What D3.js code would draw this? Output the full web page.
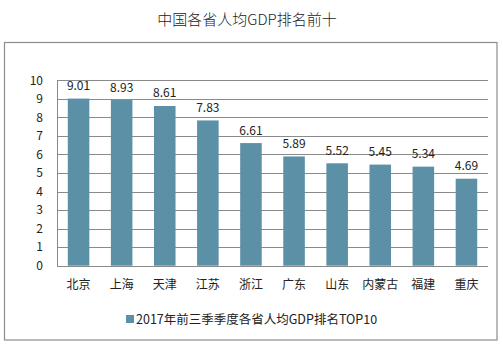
<!DOCTYPE html>
<html><head><meta charset="utf-8">
<script src="https://cdn.jsdelivr.net/npm/d3@7"></script>
<style>body{margin:0;background:#fff;} svg{display:block;} text{font-family:"Noto Sans CJK SC","Noto Sans",sans-serif;}</style>
</head><body><svg id="c" width="503" height="345"></svg>
<script>
const categories = ["北京","上海","天津","江苏","浙江","广东","山东","内蒙古","福建","重庆"];
const values = [9.01,8.93,8.61,7.83,6.61,5.89,5.52,5.45,5.34,4.69];
const yTicks = [0,1,2,3,4,5,6,7,8,9,10];
const title = "中国各省人均GDP排名前十";
const seriesName = "2017年前三季季度各省人均GDP排名TOP10";

const svg = d3.select("#c");
const color = "#5b90a6";
const m = {l:57, r:488, t:80.2, b:265.7};

svg.append("rect").attr("x",4.5).attr("y",42.5).attr("width",492.5).attr("height",297.5)
  .attr("fill","none").attr("stroke","#8c8c8c").attr("stroke-width",1.2);

svg.append("text").attr("x",247).attr("y",25).attr("text-anchor","middle")
  .attr("font-size",15).attr("font-weight",300).attr("fill","#222").text(title);

const x = d3.scaleBand().domain(categories).range([m.l,m.r]).paddingInner(0.5).paddingOuter(0.25);
const y = d3.scaleLinear().domain([0,10]).range([m.b,m.t]);

const grid = svg.append("g");
grid.selectAll("line").data(yTicks.filter(d=>d>0)).join("line")
  .attr("x1",m.l).attr("x2",m.r).attr("y1",d=>Math.round(y(d))+0.5).attr("y2",d=>Math.round(y(d))+0.5)
  .attr("stroke","#8a8a8a").attr("stroke-width",1);

const yAxis = svg.append("g").attr("transform",`translate(${m.l},0)`)
  .call(d3.axisLeft(y).tickValues(yTicks).tickSize(0).tickPadding(14).tickFormat(d3.format("d")));
yAxis.select(".domain").attr("stroke","#8a8a8a");
yAxis.selectAll("text").attr("font-size",12).attr("fill","#222")
  .attr("font-family","'Liberation Sans',Arial,sans-serif");

svg.append("g").selectAll("rect").data(values).join("rect")
  .attr("x",(d,i)=>x(categories[i])).attr("width",x.bandwidth())
  .attr("y",d=>y(d)).attr("height",d=>y(0)-y(d)).attr("fill",color);

svg.append("line").attr("x1",m.l).attr("x2",m.r).attr("y1",Math.round(y(0))+0.5).attr("y2",Math.round(y(0))+0.5)
  .attr("stroke","#8a8a8a");

svg.append("g").selectAll("text").data(values).join("text")
  .attr("x",(d,i)=>x(categories[i])+x.bandwidth()/2).attr("y",d=>y(d)-8.5)
  .attr("text-anchor","middle").attr("font-size",12).attr("fill","#222")
  .attr("font-family","'Liberation Sans',Arial,sans-serif").text(d=>d3.format(".2f")(d));

const xAxis = svg.append("g").attr("transform",`translate(0,${m.b})`)
  .call(d3.axisBottom(x).tickSize(0).tickPadding(15));
xAxis.select(".domain").remove();
xAxis.selectAll("text").attr("font-size",12).attr("fill","#222");

const lg = svg.append("g").attr("transform","translate(126,324)");
lg.append("rect").attr("x",0).attr("y",-9).attr("width",8).attr("height",8).attr("fill",color);
lg.append("text").attr("x",10).attr("y",0).attr("font-size",12.5).attr("fill","#222").text(seriesName);
</script></body></html>
